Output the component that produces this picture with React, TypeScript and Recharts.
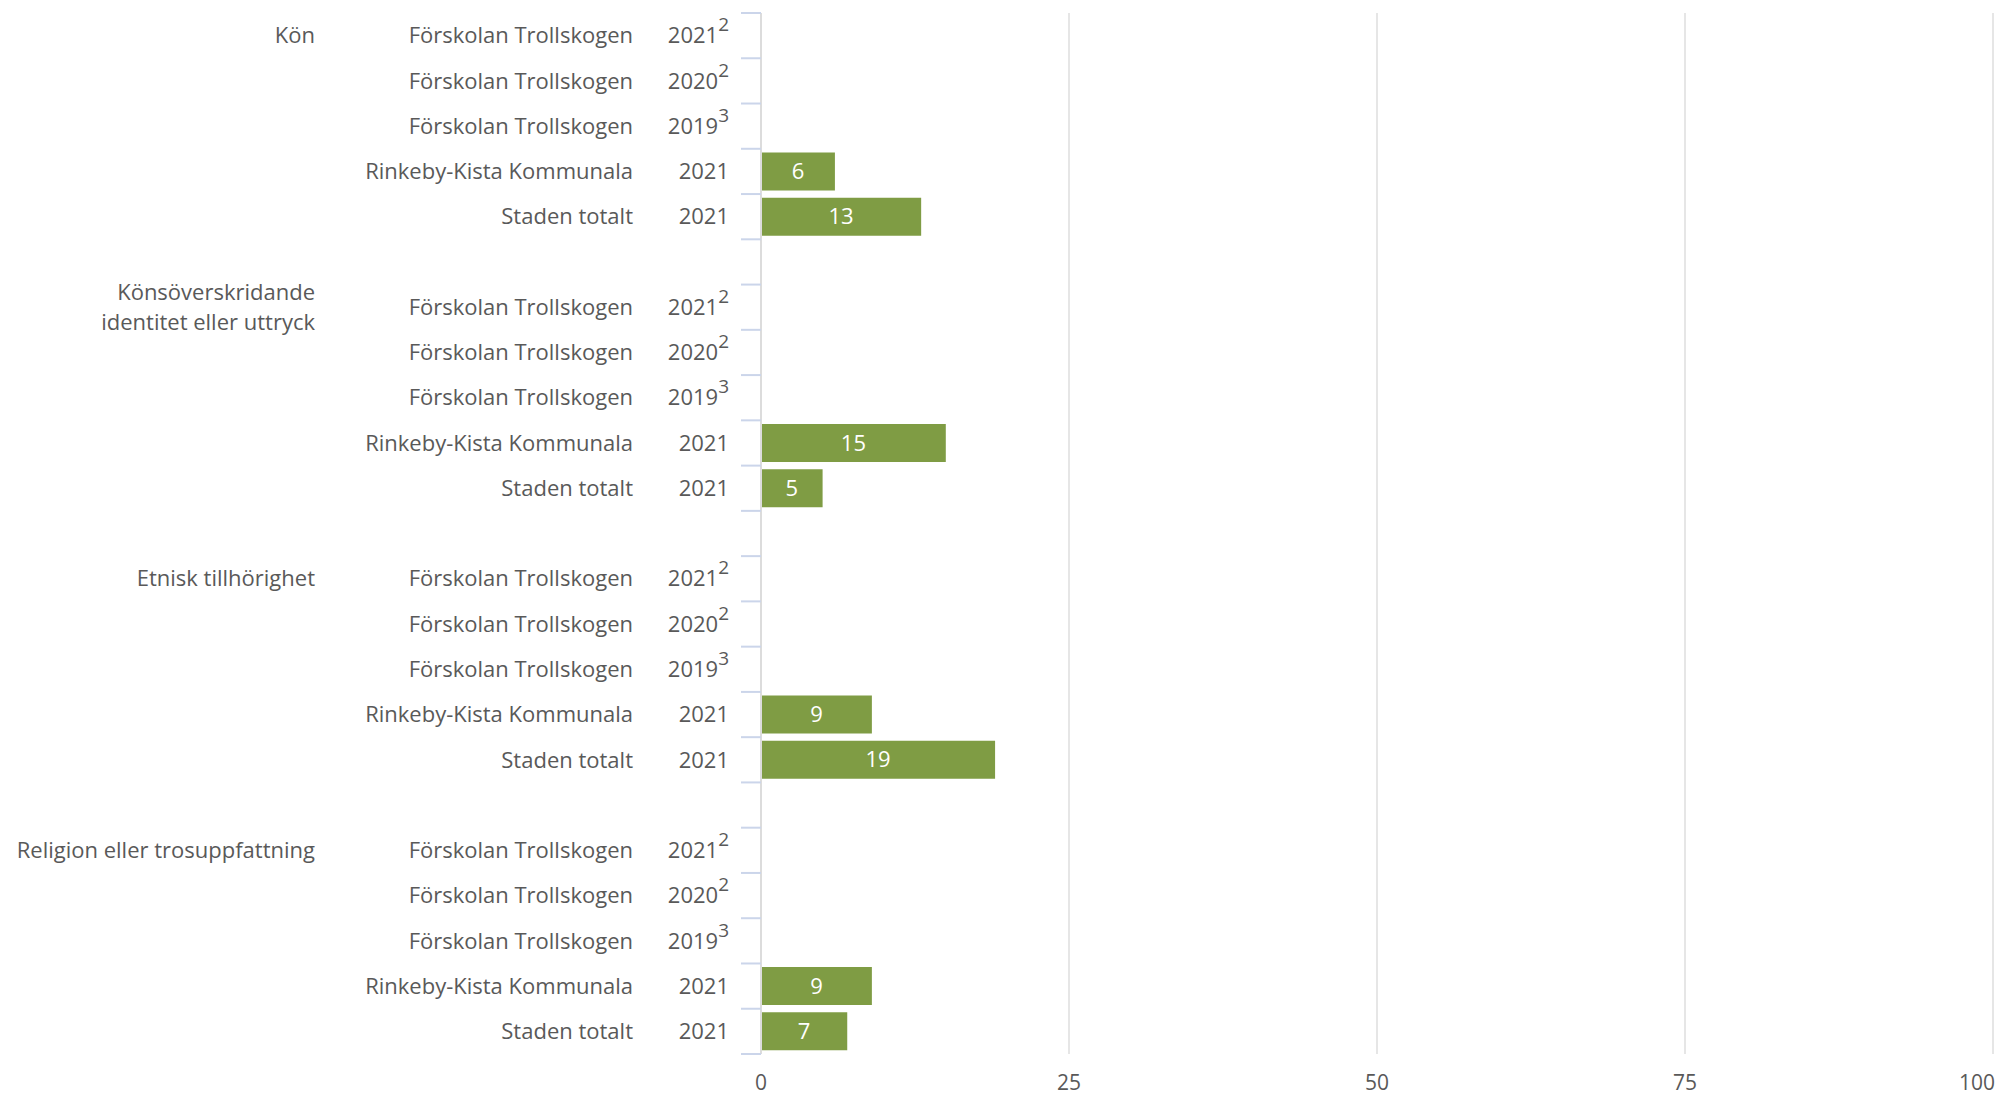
import React from 'react';
import { BarChart, Bar, XAxis, YAxis, CartesianGrid, LabelList } from 'recharts';

const groupLabels = [
  'Kön',
  'Könsöverskridande\nidentitet eller uttryck',
  'Etnisk tillhörighet',
  'Religion eller trosuppfattning',
];
const units = ['Förskolan Trollskogen', 'Förskolan Trollskogen', 'Förskolan Trollskogen', 'Rinkeby-Kista Kommunala', 'Staden totalt'];
const years = ['2021', '2020', '2019', '2021', '2021'];
const notes = ['2', '2', '3', '', ''];

const konValues = [null, null, null, 6, 13];
const identitetValues = [null, null, null, 15, 5];
const etniskValues = [null, null, null, 9, 19];
const religionValues = [null, null, null, 9, 7];
const groupValues = [konValues, identitetValues, etniskValues, religionValues];

const xTicks = [0, 25, 50, 75, 100];

type Row = {
  id: string;
  group: string | null;
  unit: string;
  year: string;
  note: string;
  value: number | null;
};

const rows: Row[] = [];
groupLabels.forEach((g, gi) => {
  units.forEach((u, i) => {
    rows.push({ id: `g${gi}r${i}`, group: i === 0 ? g : null, unit: u, year: years[i], note: notes[i], value: groupValues[gi][i] });
  });
  if (gi < groupLabels.length - 1) {
    rows.push({ id: `gap${gi}`, group: null, unit: '', year: '', note: '', value: null });
  }
});

const W = 1996;
const H = 1098;
const TOP = 13;
const BOTTOM = 14;
const XAXIS_H = 30;
const AXIS_X = 761;
const ROW = (H - TOP - BOTTOM - XAXIS_H) / rows.length;

const TEXT = '#595959';
const FONT = '"Open Sans", "Noto Sans", sans-serif';

function RowTick(props: any) {
  const { y, payload, index } = props;
  const row = rows.find((r) => r.id === payload.value);
  const last = index === rows.length - 1;
  return (
    <g>
      <line x1={AXIS_X - 20} x2={AXIS_X} y1={y - ROW / 2} y2={y - ROW / 2} stroke="#cbd5ea" strokeWidth={2} />
      {last && <line x1={AXIS_X - 20} x2={AXIS_X} y1={y + ROW / 2} y2={y + ROW / 2} stroke="#cbd5ea" strokeWidth={2} />}
      {row && row.unit && (
        <g fontFamily={FONT} fontSize={22} fill={TEXT}>
          <text x={AXIS_X - 128} y={y} dy="0.35em" textAnchor="end">{row.unit}</text>
          <text x={AXIS_X - 32} y={y} dy="0.35em" textAnchor="end">
            <tspan>{row.year}</tspan>
            {row.note && <tspan dy={-12} fontSize={19}>{row.note}</tspan>}
          </text>
          {row.group &&
            row.group.split('\n').map((line, li, arr) => (
              <text key={li} x={AXIS_X - 446} y={y + (li - (arr.length - 1) / 2) * 30} dy="0.35em" textAnchor="end">
                {line}
              </text>
            ))}
        </g>
      )}
    </g>
  );
}

function XTick(props: any) {
  const { x, payload } = props;
  const lastTick = payload.value === xTicks[xTicks.length - 1];
  return (
    <text
      x={lastTick ? W - 1 : x}
      y={H - 8}
      textAnchor={lastTick ? 'end' : 'middle'}
      fill={TEXT}
      fontSize={21}
      fontFamily={FONT}
    >
      {payload.value}
    </text>
  );
}

function BarValue(props: any) {
  const { x, y, width, height, value } = props;
  if (value == null) return null;
  return (
    <text x={x + width / 2} y={y + height / 2} dy="0.35em" textAnchor="middle" fill="#ffffff" fontSize={22} fontFamily={FONT}>
      {value}
    </text>
  );
}

export default function App() {
  return (
    <div style={{ position: 'absolute', left: 0, top: 0, background: '#ffffff' }}>
      <BarChart
        width={W}
        height={H}
        data={rows}
        layout="vertical"
        margin={{ top: TOP, right: 3, bottom: BOTTOM, left: 0 }}
        barCategoryGap="8%"
      >
        <CartesianGrid horizontal={false} stroke="#dedede" strokeWidth={1.5} />
        <XAxis
          type="number"
          domain={[0, 100]}
          ticks={xTicks}
          axisLine={false}
          tickLine={false}
          height={XAXIS_H}
          tick={<XTick />}
        />
        <YAxis
          type="category"
          dataKey="id"
          width={AXIS_X}
          interval={0}
          tickLine={false}
          axisLine={{ stroke: '#dcdcdc', strokeWidth: 2 }}
          tick={<RowTick />}
        />
        <Bar dataKey="value" fill="#7f9c44" isAnimationActive={false}>
          <LabelList dataKey="value" content={<BarValue />} />
        </Bar>
      </BarChart>
    </div>
  );
}
